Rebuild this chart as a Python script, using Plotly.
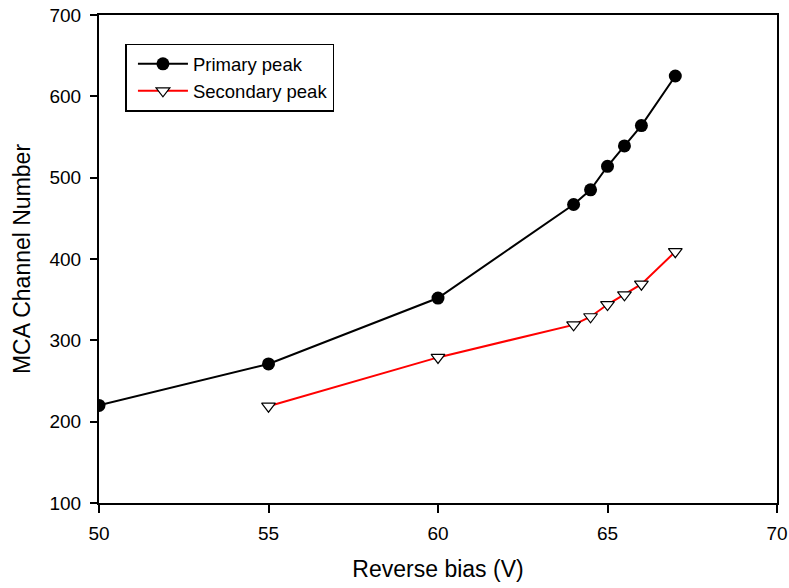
import plotly.graph_objects as go

primary_x = [50, 55, 60, 64, 64.5, 65, 65.5, 66, 67]
primary_y = [220, 271, 352, 467, 485, 514, 539, 564, 625]
secondary_x = [55, 60, 64, 64.5, 65, 65.5, 66, 67]
secondary_y = [219, 279, 319, 329, 344, 356, 369, 409]
x_ticks = [50, 55, 60, 65, 70]
y_ticks = [100, 200, 300, 400, 500, 600, 700]

fig = go.Figure()
fig.add_trace(go.Scatter(
    x=primary_x, y=primary_y, mode="lines+markers", name="Primary peak",
    line=dict(color="black", width=2),
    marker=dict(symbol="circle", size=13, color="black"),
))
fig.add_trace(go.Scatter(
    x=secondary_x, y=secondary_y, mode="lines+markers", name="Secondary peak",
    line=dict(color="red", width=2),
    marker=dict(symbol="triangle-down", size=12, color="white",
                line=dict(color="black", width=1.2)),
))

font = "Liberation Sans, Arial, sans-serif"
fig.update_layout(
    width=789, height=588,
    margin=dict(l=99, r=12, t=15, b=85),
    paper_bgcolor="white", plot_bgcolor="white",
    font=dict(family=font, size=18, color="black"),
    showlegend=True,
    legend=dict(x=0.039, y=0.941, xanchor="left", yanchor="top",
                bordercolor="black", borderwidth=1.5, bgcolor="white",
                font=dict(size=18.5, family=font), tracegroupgap=0,
                itemwidth=50, indentation=6),
    xaxis=dict(range=[50, 70], tickvals=x_ticks, ticks="outside", ticklen=8,
               tickwidth=1.5, tickcolor="black", showline=True, linecolor="black",
               linewidth=2, mirror=True, showgrid=False, zeroline=False,
               automargin=False, ticklabelstandoff=4,
               title=dict(text="Reverse bias (V)", font=dict(size=23), standoff=18),
               tickfont=dict(size=19)),
    yaxis=dict(range=[100, 700], tickvals=y_ticks, ticks="outside", ticklen=7,
               tickwidth=1.5, tickcolor="black", showline=True, linecolor="black",
               linewidth=2, mirror=True, showgrid=False, zeroline=False,
               automargin=False, ticklabelstandoff=5,
               title=dict(text="MCA Channel Number", font=dict(size=23), standoff=12),
               tickfont=dict(size=19)),
)
fig.write_html("out.html")
